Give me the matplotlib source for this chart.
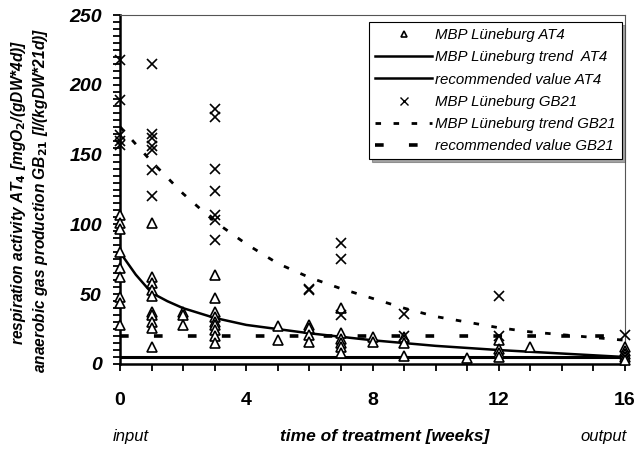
import matplotlib
matplotlib.use("Agg")
import matplotlib.pyplot as plt
from matplotlib.lines import Line2D
from matplotlib.ticker import MultipleLocator

plt.rcParams['font.family'] = ['Liberation Sans', 'DejaVu Sans']

# ---- data ----
at4_weeks = [0, 0, 0, 0, 0, 0, 0, 0, 0,
             1, 1, 1, 1, 1, 1, 1, 1, 1, 1,
             2, 2, 2,
             3, 3, 3, 3, 3, 3, 3, 3, 3,
             5, 5,
             6, 6, 6, 6,
             7, 7, 7, 7, 7, 7,
             8, 8,
             9, 9, 9,
             11,
             12, 12, 12, 12,
             13,
             16, 16, 16, 16, 16]
at4_values = [107, 101, 97, 80, 69, 62, 48, 44, 28,
              101, 62, 58, 53, 49, 37, 35, 30, 26, 12,
              37, 35, 28,
              64, 47, 37, 34, 30, 28, 24, 20, 15,
              27, 17,
              28, 26, 21, 16,
              40, 22, 18, 15, 12, 8,
              19, 16,
              19, 15, 6,
              4,
              17, 11, 8, 5,
              12,
              12, 9, 7, 5, 3]

gb21_weeks = [0, 0, 0, 0, 0,
              1, 1, 1, 1, 1, 1, 1,
              3, 3, 3, 3, 3, 3, 3,
              6, 6,
              7, 7, 7,
              9, 9,
              12, 12,
              16]
gb21_values = [218, 189, 164, 160, 157,
               215, 165, 162, 156, 153, 139, 120,
               183, 177, 140, 124, 107, 103, 89,
               54, 53,
               87, 75, 35,
               36, 20,
               49, 20,
               21]

trend_at4_weeks = [0, 0.5, 1, 1.5, 2, 3, 4, 5, 6, 7, 8, 10, 12, 14, 16]
trend_at4_values = [80, 64, 51, 45, 40, 33, 28, 25, 22, 19.5, 17, 13, 10, 7.5, 5]

trend_gb21_weeks = [0, 1, 2, 3, 4, 5, 6, 7, 8, 9, 10, 11, 12, 13, 14, 15, 16]
trend_gb21_values = [170, 145, 122, 102, 86, 72, 62, 54, 47, 40, 34, 30, 26, 23, 21, 19, 17]

recommended_weeks = [0, 16]
recommended_at4 = [5, 5]
recommended_gb21 = [20, 20]

x_ticks = [0, 4, 8, 12, 16]
y_ticks = [0, 50, 100, 150, 200, 250]

labels = ["MBP Lüneburg AT4", "MBP Lüneburg trend  AT4", "recommended value AT4",
          "MBP Lüneburg GB21", "MBP Lüneburg trend GB21", "recommended value GB21"]

# ---- figure ----
fig = plt.figure(figsize=(6.38, 4.49), dpi=100)
ax = fig.add_axes([120/638, 1 - 364/449, 505/638, 349/449])

ax.plot(recommended_weeks, recommended_at4, color='black', lw=2.2, solid_capstyle='butt', zorder=2)
ax.plot(recommended_weeks, recommended_gb21, color='black', lw=2.6, linestyle=(0, (2.4, 7)), zorder=2)
ax.plot(trend_at4_weeks, trend_at4_values, color='black', lw=1.8, zorder=3)
ax.plot(trend_gb21_weeks, trend_gb21_values, color='black', lw=2.0, linestyle=(0, (2.0, 4.5)), zorder=3)

ax.plot(at4_weeks, at4_values, linestyle='none', marker='^', markersize=6.5,
        markerfacecolor='white', markeredgecolor='black', markeredgewidth=1.2,
        clip_on=False, zorder=4)
ax.plot(gb21_weeks, gb21_values, linestyle='none', marker='x', markersize=7,
        color='black', markeredgewidth=1.2, clip_on=False, zorder=4)

ax.set_xlim(0, 16)
ax.set_ylim(0, 250)
ax.set_xticks(x_ticks)
ax.set_yticks(y_ticks)
ax.xaxis.set_minor_locator(MultipleLocator(1))
ax.yaxis.set_minor_locator(MultipleLocator(5))
ax.tick_params(axis='x', which='both', direction='out', length=5, width=1.3, pad=15,
               labelsize=14)
ax.tick_params(axis='y', which='both', direction='out', length=5, width=1.3, pad=8,
               labelsize=14)
for lab in ax.get_xticklabels():
    lab.set_fontweight('bold')
for lab in ax.get_yticklabels():
    lab.set_fontweight('bold')
    lab.set_fontstyle('italic')

for s in ['left', 'bottom']:
    ax.spines[s].set_linewidth(1.8)
for s in ['top', 'right']:
    ax.spines[s].set_linewidth(0.8)
    ax.spines[s].set_linestyle((0, (1, 1)))
    ax.spines[s].set_color('#555555')

# axis texts
fig.text(131/638, 1 - 436/449, "input", fontsize=12, fontstyle='italic', ha='center', va='center')
fig.text(385/638, 1 - 436/449, "time of treatment [weeks]", fontsize=12.5,
         fontstyle='italic', fontweight='bold', ha='center', va='center')
fig.text(604/638, 1 - 436/449, "output", fontsize=12, fontstyle='italic', ha='center', va='center')

fig.text(19/638, 1 - 192/449, r"respiration activity AT$_{\mathbf{4}}$ [mgO$_{\mathbf{2}}$/(gDW*4d)]",
         rotation=90, fontsize=11.2, fontstyle='italic', fontweight='bold', ha='center', va='center')
fig.text(41/638, 1 - 200/449, r"anaerobic gas production GB$_{\mathbf{21}}$ [l/(kgDW*21d)]",
         rotation=90, fontsize=11.2, fontstyle='italic', fontweight='bold', ha='center', va='center')

handles = [
    Line2D([], [], linestyle='none', marker='^', markersize=5, markerfacecolor='white',
           markeredgecolor='black', markeredgewidth=1.2),
    Line2D([], [], color='black', lw=1.8),
    Line2D([], [], color='black', lw=1.8),
    Line2D([], [], linestyle='none', marker='x', markersize=6, color='black', markeredgewidth=1.0),
    Line2D([], [], color='black', lw=2.0, linestyle=(0, (2.0, 4.5))),
    Line2D([], [], color='black', lw=2.6, linestyle=(0, (2.4, 7))),
]
leg = ax.legend(handles, labels, loc='upper right', bbox_to_anchor=(622/638, 1 - 22/449),
                bbox_transform=fig.transFigure, prop={'style': 'italic', 'size': 10.8},
                frameon=True, fancybox=False, shadow=True, handlelength=3.8,
                handletextpad=0.2, labelspacing=0.55, borderpad=0.4, borderaxespad=0)
leg.get_frame().set_edgecolor('black')
leg.get_frame().set_linewidth(0.8)

fig.savefig("out.png", dpi=100)
